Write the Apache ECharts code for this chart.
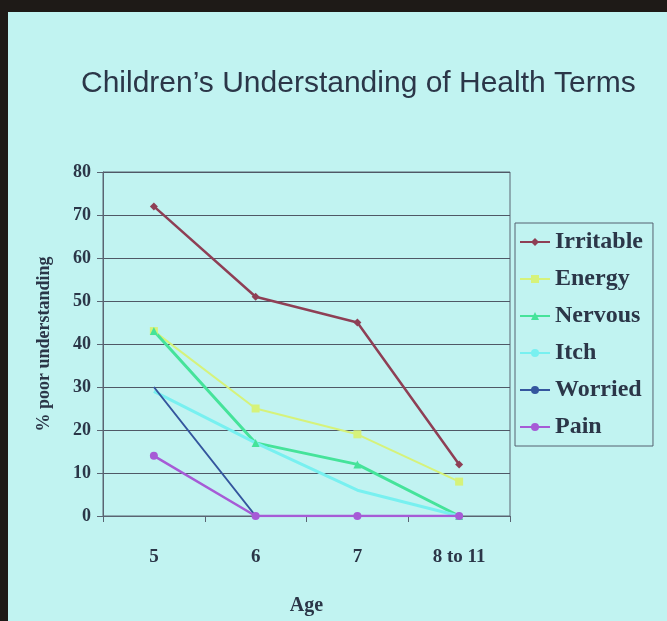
<!DOCTYPE html>
<html>
<head>
<meta charset="utf-8">
<script src="https://cdn.jsdelivr.net/npm/echarts@6/dist/echarts.min.js"></script>
<style>
  html, body { margin: 0; padding: 0; background: #1e1a17; }
  #chart { width: 667px; height: 621px; }
</style>
</head>
<body>
<div id="chart"></div>
<script>
// data
var ages = ['5', '6', '7', '8 to 11'];
var irritable = [72, 51, 45, 12];
var energy = [43, 25, 19, 8];
var nervous = [43, 17, 12, 0];
var itch = [29, 17, 6, 0];
var worried = [30, 0, 0, 0];
var pain = [14, 0, 0, 0];
var yTicks = [0, 10, 20, 30, 40, 50, 60, 70, 80];

var serif = '"Liberation Serif", "DejaVu Serif", serif';
var ink = '#2b3648';

function line(name, data, color, symbol, width) {
    return {
        name: name,
        type: 'line',
        data: data,
        symbol: symbol,
        symbolSize: 8,
        lineStyle: {color: color, width: width || 2},
        itemStyle: {color: color},
        animation: false
    };
}

var myChart = echarts.init(document.getElementById('chart'));

myChart.setOption({
    backgroundColor: 'transparent',
    graphic: [
        // the slide itself
        {type: 'rect', z: -10, shape: {x: 8, y: 12, width: 659, height: 609}, style: {fill: '#c1f3f1'}}
    ],
    title: {
        text: 'Children\u2019s Understanding of Health Terms',
        left: 76,
        top: 64,
        textStyle: {
            fontFamily: '"Liberation Sans", Arial, sans-serif',
            fontWeight: 'normal',
            fontSize: 30,
            color: ink
        }
    },
    legend: {
        orient: 'vertical',
        left: 515,
        top: 223,
        itemGap: 13,
        itemWidth: 30,
        itemHeight: 10,
        padding: [7, 10, 7, 4],
        borderColor: '#556070',
        borderWidth: 1,
        textStyle: {fontFamily: serif, fontWeight: 'bold', fontSize: 24, color: ink},
        data: ['Irritable', 'Energy', 'Nervous', 'Itch', 'Worried', 'Pain']
    },
    grid: {
        left: 103, right: 157, top: 172, bottom: 103,
        show: true,
        borderColor: '#5a6472',
        borderWidth: 1
    },
    xAxis: {
        type: 'category',
        data: ages,
        name: 'Age',
        nameLocation: 'middle',
        nameGap: 80,
        nameTextStyle: {fontFamily: serif, fontWeight: 'bold', fontSize: 20, color: ink},
        axisLine: {lineStyle: {color: '#5a6472'}},
        axisTick: {show: true, length: 6, lineStyle: {color: '#5a6472'}},
        axisLabel: {fontFamily: serif, fontWeight: 'bold', fontSize: 19, color: ink, margin: 32}
    },
    yAxis: {
        type: 'value',
        min: yTicks[0],
        max: yTicks[yTicks.length - 1],
        interval: 10,
        name: '% poor understanding',
        nameLocation: 'middle',
        nameGap: 50,
        nameRotate: 90,
        nameTextStyle: {fontFamily: serif, fontWeight: 'bold', fontSize: 18, color: ink},
        axisLine: {show: true, lineStyle: {color: '#5a6472'}},
        axisTick: {show: true, length: 6, lineStyle: {color: '#5a6472'}},
        axisLabel: {fontFamily: serif, fontWeight: 'bold', fontSize: 18, color: ink, margin: 12},
        splitLine: {lineStyle: {color: '#4f5866', width: 1.2}}
    },
    series: [
        line('Irritable', irritable, '#8e3f55', 'diamond', 2.5),
        line('Energy', energy, '#d6f27a', 'rect', 2),
        line('Nervous', nervous, '#45e39a', 'triangle', 3),
        line('Itch', itch, '#78f0f0', 'none', 3),
        line('Worried', worried, '#34569e', 'none', 2),
        line('Pain', pain, '#a65bd6', 'circle', 2.5)
    ]
});
</script>
</body>
</html>
